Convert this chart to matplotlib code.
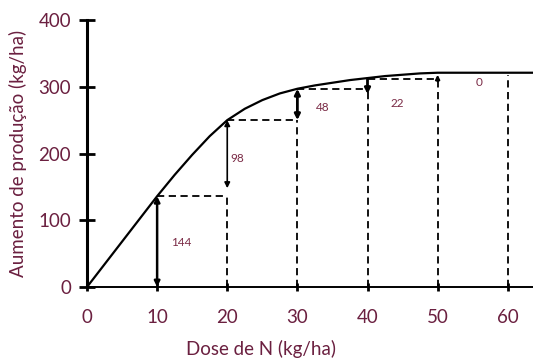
import matplotlib
matplotlib.use("Agg")
import matplotlib.pyplot as plt

# ---- data ----
curve_dose = [0, 2.5, 5, 7.5, 10, 12.5, 15, 17.5, 20, 22.5, 25, 27.5, 30, 32.5, 35,
              37.5, 40, 42.5, 45, 47.5, 50, 55, 60, 63.6]
curve_yield = [0, 34, 68, 102, 136, 168, 198, 226, 250, 267, 280, 290, 297, 302, 306,
               310, 313, 316, 318, 320, 321, 321, 321, 321]

step_dose = [10, 20, 30, 40, 50, 60]
step_level = [136, 250, 297, 312, 316, 318]

increment_labels = ["144", "98", "48", "22", "0"]
label_dose = [13.4, 21.4, 33.6, 44.3, 55.9]
label_yield = [66, 193, 269, 275, 306]

x_ticks = [0, 10, 20, 30, 40, 50, 60]
y_ticks = [0, 100, 200, 300, 400]

TXT = "#6b2040"
NUMC = "#7a2a45"
FONT = ["Lato", "DejaVu Sans"]

plt.rcParams["font.family"] = FONT

fig = plt.figure(figsize=(5.33, 3.62), dpi=100)
ax = fig.add_axes([87/533, 1-287/362, 1-87/533, (287-20)/362])

ax.set_xlim(0, 63.6)
ax.set_ylim(0, 400)

# curve
ax.plot(curve_dose, curve_yield, color="black", lw=1.6, solid_joinstyle="round", clip_on=False)

dash = (0, (4, 2.5))
dkw = dict(color="black", lw=1.3, linestyle=dash)

# horizontal dashed steps (from each dose to next at that level)
for i in range(4):
    ax.plot([step_dose[i], step_dose[i+1]], [step_level[i], step_level[i]], **dkw)
# vertical dashed lines from 0 up to levels (doses 20..60)
ax.plot([step_dose[1], step_dose[1]], [0, step_level[0]], **dkw)
ax.plot([step_dose[2], step_dose[2]], [0, step_level[1]], **dkw)
ax.plot([step_dose[3], step_dose[3]], [0, step_level[2]], **dkw)
ax.plot([step_dose[4], step_dose[4]], [0, step_level[3]], **dkw)
ax.plot([step_dose[5], step_dose[5]], [0, step_level[5]], **dkw)

# arrows
def arrow(x, y0, y1, style="<|-|>", lw=1.8, ms=8):
    ax.annotate("", xy=(x, y1), xytext=(x, y0),
                arrowprops=dict(arrowstyle=style, color="black", lw=lw,
                                mutation_scale=ms, shrinkA=0, shrinkB=0))

arrow(step_dose[0], 0, step_level[0], lw=1.8)
arrow(step_dose[1], 148, step_level[1], lw=1.2)
arrow(step_dose[2], step_level[2], step_level[1], lw=2.0)
arrow(step_dose[3], step_level[3], step_level[2] - 8, style="-|>", lw=2.0)
arrow(step_dose[4], step_level[3] - 4, step_level[4] + 2, style="-|>", lw=1.5, ms=6)

for t, x, y in zip(increment_labels, label_dose, label_yield):
    ax.text(x, y, t, color=NUMC, fontsize=8.5, ha="center", va="center")

# axes styling
for s in ["top", "right"]:
    ax.spines[s].set_visible(False)
ax.spines["left"].set_linewidth(2.2)
ax.spines["bottom"].set_linewidth(1.4)

ax.set_xticks(x_ticks)
ax.set_yticks(y_ticks)
ax.tick_params(axis="y", direction="inout", length=11, width=2.0, pad=6,
               labelsize=13.5, labelcolor=TXT)
ax.tick_params(axis="x", direction="inout", length=6, width=2.0, pad=13,
               labelsize=13.5, labelcolor=TXT)

ax.set_xlabel("Dose de N (kg/ha)", fontsize=13.5, color=TXT)
ax.xaxis.set_label_coords(0.39, -0.200)
ax.set_ylabel("Aumento de produção (kg/ha)", fontsize=13.5, color=TXT)
ax.yaxis.set_label_coords(-0.135, 0.5)

fig.savefig("out.png", dpi=100)
